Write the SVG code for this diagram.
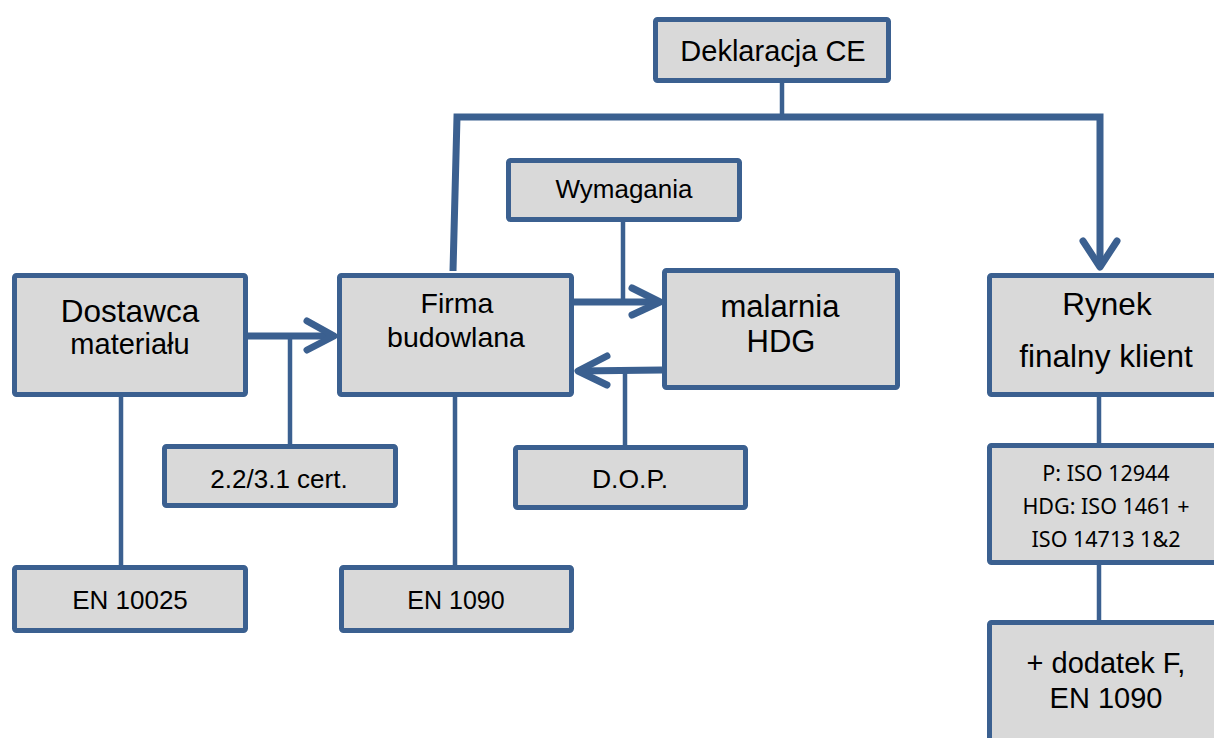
<svg xmlns="http://www.w3.org/2000/svg" width="1214" height="738" viewBox="0 0 1214 738">
<style>
.box{fill:#D9D9D9;stroke:#3B6090;stroke-width:5;stroke-linejoin:round}
.t{font-family:"Liberation Sans",Arial,sans-serif;fill:#000;text-anchor:middle}
.c{font-family:"Noto Sans","Open Sans",sans-serif;fill:#000;text-anchor:middle;font-size:21.5px}
.thin{fill:none;stroke:#3B6090;stroke-width:4.5}
.thick{fill:none;stroke:#3B6090;stroke-width:7}
.head{fill:none;stroke:#3B6090;stroke-width:7;stroke-linecap:round;stroke-linejoin:round}
</style>
<rect width="1214" height="738" fill="#fff"/>
<g id="connectors">
<line class="thin" x1="782" y1="83" x2="782" y2="117"/>
<polyline class="thick" points="453,271 457,117 1100,117 1100,266"/>
<polyline class="head" points="1083,241 1100,267 1117,241"/>
<line class="thick" x1="248" y1="336" x2="333" y2="336"/>
<polyline class="head" points="307,321 334,336 307,350"/>
<line class="thin" x1="290" y1="336" x2="290" y2="444"/>
<line class="thick" x1="574" y1="302" x2="659" y2="302"/>
<polyline class="head" points="632,288 660,302 632,315"/>
<line class="thin" x1="623" y1="222" x2="623" y2="302"/>
<line class="thick" x1="662" y1="370" x2="578" y2="371"/>
<polyline class="head" points="607,356 578,371 607,385"/>
<line class="thin" x1="625" y1="371" x2="625" y2="445"/>
<line class="thin" x1="121" y1="397" x2="121" y2="565"/>
<line class="thin" x1="455" y1="397" x2="455" y2="565"/>
<line class="thin" x1="1099" y1="397" x2="1099" y2="443"/>
<line class="thin" x1="1099" y1="565" x2="1099" y2="620"/>
</g>
<g id="deklaracja">
<rect class="box" x="655.5" y="19.5" width="233" height="61" rx="2"/>
<text class="t" x="773" y="61" font-size="29">Deklaracja CE</text>
</g>
<g id="wymagania">
<rect class="box" x="508.5" y="160.5" width="231" height="59" rx="2"/>
<text class="t" x="624" y="198" font-size="26">Wymagania</text>
</g>
<g id="dostawca">
<rect class="box" x="14.5" y="275.5" width="231" height="119" rx="2"/>
<text class="t" x="130" y="322" font-size="31.5">Dostawca</text>
<text class="t" x="130" y="354" font-size="29">materiału</text>
</g>
<g id="firma">
<rect class="box" x="339.5" y="275.5" width="232" height="119" rx="2"/>
<text class="t" x="457" y="313" font-size="28.5">Firma</text>
<text class="t" x="456" y="347" font-size="28.5">budowlana</text>
</g>
<g id="malarnia">
<rect class="box" x="664.5" y="270.5" width="233" height="117" rx="2"/>
<text class="t" x="780" y="317" font-size="31">malarnia</text>
<text class="t" x="781" y="352" font-size="31">HDG</text>
</g>
<g id="rynek">
<rect class="box" x="989.5" y="275.5" width="236" height="119" rx="2"/>
<text class="t" x="1107" y="315" font-size="31.5">Rynek</text>
<text class="t" x="1106" y="367" font-size="31.5">finalny klient</text>
</g>
<g id="cert">
<rect class="box" x="164.5" y="446.5" width="231" height="59" rx="2"/>
<text class="t" x="279" y="488" font-size="26">2.2/3.1 cert.</text>
</g>
<g id="dop">
<rect class="box" x="515.5" y="447.5" width="230" height="60" rx="2"/>
<text class="t" x="630" y="488" font-size="26.5">D.O.P.</text>
</g>
<g id="en10025">
<rect class="box" x="14.5" y="567.5" width="231" height="63" rx="2"/>
<text class="t" x="130" y="609" font-size="26">EN 10025</text>
</g>
<g id="en1090">
<rect class="box" x="341.5" y="567.5" width="230" height="63" rx="2"/>
<text class="t" x="456" y="609" font-size="25">EN 1090</text>
</g>
<g id="iso">
<rect class="box" x="989.5" y="445.5" width="236" height="117" rx="2"/>
<text class="c" x="1106" y="481">P: ISO 12944</text>
<text class="c" x="1106" y="514">HDG: ISO 1461 +</text>
<text class="c" x="1106" y="547">ISO 14713 1&amp;2</text>
</g>
<g id="dodatek">
<rect class="box" x="989.5" y="622.5" width="236" height="130" rx="2"/>
<text class="t" x="1106" y="673" font-size="29">+ dodatek F,</text>
<text class="t" x="1106" y="708" font-size="29">EN 1090</text>
</g>
</svg>
